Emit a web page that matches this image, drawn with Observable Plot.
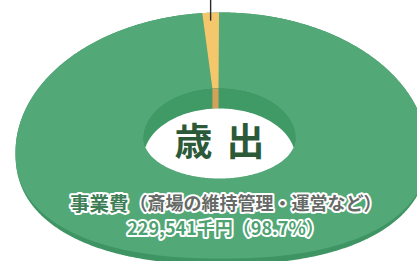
<!DOCTYPE html>
<html><head><meta charset="utf-8">
<script src="https://cdn.jsdelivr.net/npm/d3@7"></script>
<script src="https://cdn.jsdelivr.net/npm/@observablehq/plot@0.6"></script>
<style>
html,body{margin:0;padding:0;background:#fff;overflow:hidden;}
</style></head>
<body><div id="chart"></div>
<script>
// ---- data ----
const categories = ["事業費", "その他"];
const values = [229541, 3023];
const notes = ["斎場の維持管理・運営など", ""];
const sliceColors = ["#53a877", "#f5c76c"];
const wallColors = ["#3f9a65", "#d2a25a"];
const title = "歳出";
const unit = "千円";

// ---- layout ----
const W = 417, H = 261;
const G = {cx: 221, cy: 152, rx: 206, ryUp: 140, ryDown: 112, rim: 6, n: 2.3,
           icx: 219, icy: 138, irx: 76, iryUp: 50, iryDown: 40, wall: 20};
const FONT = "'Noto Sans CJK JP','Noto Sans',sans-serif";

function outer(t, ryDown) {
  const s = Math.sin(t), c = -Math.cos(t);
  if (c <= 0) return [G.cx + G.rx * s, G.cy + G.ryUp * c];
  const p = 2 / G.n;
  return [G.cx + G.rx * Math.sign(s) * Math.abs(s) ** p, G.cy + ryDown * c ** p];
}
function inner(t) {
  const s = Math.sin(t), c = -Math.cos(t);
  return [G.icx + G.irx * s, G.icy + (c <= 0 ? G.iryUp : G.iryDown) * c];
}
function lensTop(x) {
  const u = (x - G.icx) / G.irx;
  return G.icy + G.wall - G.iryUp * Math.sqrt(Math.max(0, 1 - u * u));
}
function arcSteps(a0, a1) {
  const n = Math.max(2, Math.ceil(Math.abs(a1 - a0) / (Math.PI / 360)));
  return d3.range(n + 1).map(i => a0 + (a1 - a0) * i / n);
}

const total = d3.sum(values);
const arcs = d3.pie().sort(null).startAngle(-0.012).endAngle(-0.012 + 2 * Math.PI)(values);

// silhouette (rim / thickness)
const rimPts = arcSteps(0, 2 * Math.PI).map(t => {
  const [x, y] = outer(t, G.ryDown); return {key: "rim", x, y};
});
// top face slices
const facePts = [];
arcs.forEach((a, i) => {
  arcSteps(a.startAngle, a.endAngle).forEach(t => {
    const [x, y] = outer(t, G.ryDown - G.rim); facePts.push({key: i, x, y});
  });
  arcSteps(a.endAngle, a.startAngle).forEach(t => {
    const [x, y] = inner(t); facePts.push({key: i, x, y});
  });
});
// inner wall (hole)
const wallPts = arcSteps(0, 2 * Math.PI).map(t => {
  const [x, y] = inner(t); return {key: "wall", x, y};
});
// small slice continuing down the inner wall
const wallSlicePts = [];
arcs.forEach((a, i) => {
  if (i === 0) return;
  const top = arcSteps(a.startAngle, a.endAngle).map(t => inner(t));
  top.forEach(([x, y]) => wallSlicePts.push({key: i, x, y}));
  top.slice().reverse().forEach(([x]) => wallSlicePts.push({key: i, x, y: lensTop(x)}));
});
// white opening (lens)
const w = G.wall / (G.iryUp + G.iryDown);
const uMax = Math.sqrt(1 - w * w);
const lensPts = [];
d3.range(0, 101).forEach(k => {
  const u = -uMax + 2 * uMax * k / 100, r = Math.sqrt(1 - u * u);
  lensPts.push({key: "lens", x: G.icx + G.irx * u, y: G.icy + G.wall - G.iryUp * r});
});
d3.range(0, 101).forEach(k => {
  const u = uMax - 2 * uMax * k / 100, r = Math.sqrt(1 - u * u);
  lensPts.push({key: "lens", x: G.icx + G.irx * u, y: G.icy + G.iryDown * r});
});

// leader line for small slice
const small = arcs[1];
const mid = (small.startAngle + small.endAngle) / 2;
const [lx, ly] = outer(mid, G.ryDown);
const leader = [{x1: lx, y1: ly + 8, x2: lx, y2: ly - 14}];

// title characters
const titleChars = Array.from(title).map((ch, i, arr) => ({ch, x: G.icx + (i - (arr.length - 1) / 2) * 52, y: 142}));

const pct = (values[0] / total * 100).toFixed(1);
const line2 = d3.format(",")(values[0]) + unit + "（" + pct + "%）";

const plot = Plot.plot({
  width: W, height: H,
  margin: 0,
  x: {domain: [0, W], range: [0, W], axis: null},
  y: {domain: [0, H], range: [0, H], axis: null},
  style: {background: "#fff", overflow: "hidden"},
  marks: [
    Plot.line(rimPts, {x: "x", y: "y", z: "key", fill: "#3f9463", stroke: "none"}),
    Plot.line(facePts.filter(d => d.key === 0), {x: "x", y: "y", z: "key", fill: sliceColors[0], stroke: "none"}),
    Plot.line(facePts.filter(d => d.key === 1), {x: "x", y: "y", z: "key", fill: sliceColors[1], stroke: "none"}),
    Plot.line(wallPts, {x: "x", y: "y", z: "key", fill: wallColors[0], stroke: "none"}),
    Plot.line(wallSlicePts, {x: "x", y: "y", z: "key", fill: wallColors[1], stroke: "none"}),
    Plot.line(lensPts, {x: "x", y: "y", z: "key", fill: "#ffffff", stroke: "none"}),
    Plot.link(leader, {x1: "x1", y1: "y1", x2: "x2", y2: "y2", stroke: "#2a2a2a", strokeWidth: 1.4}),
    Plot.text(titleChars, {x: "x", y: "y", text: "ch", fontSize: 38, fontWeight: "bold", fill: "#2c5a39", fontFamily: FONT}),
    Plot.text([categories[0]], {x: () => 128, y: () => 204, text: d => d, textAnchor: "end", fontSize: 19.5, fontWeight: "bold",
      fill: "#3f7f57", stroke: "#ffffff", strokeWidth: 4, paintOrder: "stroke", fontFamily: FONT}),
    Plot.text([notes[0]], {x: () => 129, y: () => 204, text: d => "（" + d + "）", textAnchor: "start", fontSize: 18, fontWeight: "bold",
      fill: "#666a66", stroke: "#ffffff", strokeWidth: 4, paintOrder: "stroke", fontFamily: FONT}),
    Plot.text([line2], {x: () => 225, y: () => 229, text: d => d, fontSize: 18, fontWeight: "bold",
      fill: "#4da271", stroke: "#ffffff", strokeWidth: 4, paintOrder: "stroke", fontFamily: FONT})
  ]
});
document.getElementById("chart").appendChild(plot);
</script></body></html>
